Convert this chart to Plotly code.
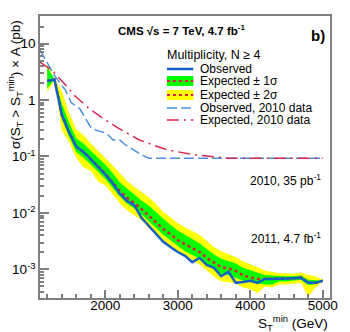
import plotly.graph_objects as go

# 2011 data, N >= 4
st = [1200, 1300, 1400, 1500, 1600, 1700, 1800, 1900, 2000, 2100, 2200, 2300, 2400, 2500,
      2600, 2700, 2800, 2900, 3000, 3100, 3200, 3300, 3400, 3500, 3600, 3700, 3800, 3900,
      4000, 4100, 4200, 4300, 4400, 4500, 4600, 4700, 4800, 4900, 5000]
observed = [2.17, 2.3, 0.55, 0.27, 0.15, 0.12, 0.09, 0.067, 0.048, 0.034, 0.022, 0.0163, 0.0138, 0.0082,
            0.0059, 0.0044, 0.0031, 0.0025, 0.00204, 0.00174, 0.00135, 0.0016, 0.0012, 0.00107, 0.00076, 0.00091, 0.00058, 0.0006,
            0.00063, 0.00058, 0.00068, 0.00068, 0.00068, 0.00068, 0.0007, 0.00071, 0.00058, 0.00058, 0.00063]
expected = [2.17, 2.3, 0.55, 0.27, 0.15, 0.12, 0.09, 0.067, 0.05, 0.035, 0.0245, 0.0185, 0.0151, 0.0118,
            0.0089, 0.0069, 0.0052, 0.0042, 0.0033, 0.0028, 0.0024, 0.00204, 0.0016, 0.00131, 0.0011, 0.00105, 0.00094, 0.00079,
            0.00072, 0.00068, 0.00068, 0.00068, 0.00068, 0.00068, 0.0007, 0.00073, 0.00058, 0.00058, 0.00063]
sig1_up = [3.8, 2.35, 0.87, 0.4, 0.21, 0.17, 0.127, 0.095, 0.072, 0.051, 0.035, 0.027, 0.021, 0.0167,
           0.0135, 0.0102, 0.0079, 0.0062, 0.0049, 0.0041, 0.0034, 0.0029, 0.0023, 0.00185, 0.00155, 0.00142, 0.00127, 0.00107,
           0.00097, 0.00086, 0.0008, 0.00078, 0.00076, 0.00076, 0.00077, 0.00078, 0.00066, 0.00065, 0.00064]
sig1_dn = [1.63, 2.25, 0.46, 0.225, 0.12, 0.095, 0.072, 0.053, 0.04, 0.028, 0.0195, 0.0147, 0.012, 0.0094,
           0.0071, 0.0055, 0.0041, 0.0033, 0.0026, 0.0021, 0.0018, 0.00155, 0.00121, 0.001, 0.00083, 0.0008, 0.00071, 0.00063,
           0.0006, 0.00057, 0.00054, 0.00054, 0.00061, 0.00061, 0.00064, 0.00065, 0.00053, 0.00055, 0.00062]
sig2_up = [4.3, 2.4, 1.45, 0.6, 0.3, 0.24, 0.17, 0.128, 0.095, 0.07, 0.051, 0.037, 0.029, 0.0235,
           0.019, 0.0144, 0.0104, 0.0084, 0.0066, 0.0056, 0.0048, 0.0041, 0.0032, 0.0025, 0.0021, 0.00187, 0.00167, 0.0014,
           0.00122, 0.00109, 0.00096, 0.0009, 0.00086, 0.00086, 0.00084, 0.00088, 0.0008, 0.00076, 0.00065]
sig2_dn = [1.4, 2.2, 0.29, 0.18, 0.095, 0.064, 0.056, 0.036, 0.031, 0.021, 0.0148, 0.0112, 0.0091, 0.0074,
           0.0054, 0.0042, 0.0031, 0.0025, 0.002, 0.0017, 0.00145, 0.00123, 0.00097, 0.00074, 0.00062, 0.00059, 0.00057, 0.00048,
           0.00045, 0.00038, 0.0005, 0.00048, 0.00054, 0.00054, 0.00056, 0.00058, 0.00033, 0.00048, 0.00061]

# 2010 data, 35 pb-1
st_obs10 = [1100, 1300, 1450, 1530, 1650, 1800, 1880, 1970, 2040, 2110, 2200, 2280, 2500, 2600, 5000]
obs10 = [7.7, 2.7, 1.5, 0.9, 0.7, 0.33, 0.29, 0.27, 0.24, 0.195, 0.195, 0.16, 0.107, 0.093, 0.093]
st_exp10 = [1100, 1270, 1460, 1590, 1770, 1960, 2175, 2470, 2740, 2870, 3230, 3420, 3700, 5000]
exp10 = [4.7, 3.3, 1.8, 1.15, 0.72, 0.48, 0.32, 0.196, 0.147, 0.13, 0.107, 0.1, 0.093, 0.093]

FONT = "Liberation Sans, Arial, sans-serif"
BLUE = "#1560c8"
LBLUE = "#4a90e0"
RED = "#e0203c"
CRIMSON = "#d8284e"
GREEN = "#00ff00"
YELLOW = "#ffff00"

fig = go.Figure()

fig.add_trace(go.Scatter(x=st, y=sig2_dn, mode="lines", line=dict(width=0), hoverinfo="skip"))
fig.add_trace(go.Scatter(x=st, y=sig2_up, mode="lines", line=dict(width=0), fill="tonexty",
                         fillcolor=YELLOW, hoverinfo="skip"))
fig.add_trace(go.Scatter(x=st, y=sig1_dn, mode="lines", line=dict(width=0), hoverinfo="skip"))
fig.add_trace(go.Scatter(x=st, y=sig1_up, mode="lines", line=dict(width=0), fill="tonexty",
                         fillcolor=GREEN, hoverinfo="skip"))
fig.add_trace(go.Scatter(x=st_obs10, y=obs10, mode="lines", line=dict(color=LBLUE, width=1.5, dash="10px,4px")))
fig.add_trace(go.Scatter(x=st_exp10, y=exp10, mode="lines",
                         line=dict(color=CRIMSON, width=1.5, dash="12px,5px,2px,5px")))
fig.add_trace(go.Scatter(x=st, y=expected, mode="lines", line=dict(color=RED, width=2.5, dash="dot")))
fig.add_trace(go.Scatter(x=st, y=observed, mode="lines", line=dict(color=BLUE, width=2.5)))

# legend, drawn by hand in paper coordinates
def px(x):
    return (x - 35) / 297.0

def py(y):
    return (298 - y) / 282.0

shapes = [
    dict(type="line", xref="paper", yref="paper", x0=px(165), x1=px(192), y0=py(69), y1=py(69),
         line=dict(color=BLUE, width=2.5)),
    dict(type="rect", xref="paper", yref="paper", x0=px(165), x1=px(192), y0=py(86), y1=py(76),
         fillcolor=GREEN, line=dict(width=0)),
    dict(type="line", xref="paper", yref="paper", x0=px(165), x1=px(192), y0=py(81), y1=py(81),
         line=dict(color=RED, width=2, dash="dot")),
    dict(type="rect", xref="paper", yref="paper", x0=px(165), x1=px(192), y0=py(100), y1=py(90),
         fillcolor=YELLOW, line=dict(width=0)),
    dict(type="line", xref="paper", yref="paper", x0=px(165), x1=px(192), y0=py(95), y1=py(95),
         line=dict(color=RED, width=2, dash="dot")),
    dict(type="line", xref="paper", yref="paper", x0=px(165), x1=px(192), y0=py(108), y1=py(108),
         line=dict(color=LBLUE, width=1.5, dash="10px,4px")),
    dict(type="line", xref="paper", yref="paper", x0=px(165), x1=px(192), y0=py(120), y1=py(120),
         line=dict(color=CRIMSON, width=1.5, dash="12px,5px,2px,5px")),
]

legend_text = ["Observed", "Expected ± 1σ", "Expected ± 2σ", "Observed, 2010 data", "Expected, 2010 data"]
legend_y = [69, 81, 95, 108, 120]

annotations = [
    dict(text="Multiplicity, N ≥ 4", x=px(163), y=py(55), xanchor="left", yanchor="middle",
         font=dict(size=12.5)),
    dict(text="<b>CMS √s = 7 TeV, 4.7 fb<sup>-1</sup></b>", x=px(180), y=py(30), xanchor="center",
         yanchor="middle", font=dict(size=11.5)),
    dict(text="<b>b)</b>", x=px(320), y=py(35), xanchor="center", yanchor="middle", font=dict(size=15)),
    dict(text="2010, 35 pb<sup>-1</sup>", x=px(325), y=py(180), xanchor="right", yanchor="middle",
         font=dict(size=12)),
    dict(text="2011, 4.7 fb<sup>-1</sup>", x=px(325), y=py(238), xanchor="right", yanchor="middle",
         font=dict(size=12)),
    dict(text="S<sub>T</sub><sup>min</sup> (GeV)", x=1.0, y=py(323), xanchor="right", yanchor="middle",
         font=dict(size=13.5)),
    dict(text="σ(S<sub>T</sub> > S<sub>T</sub><sup>min</sup>) × A (pb)", x=px(9), y=py(18),
         xanchor="center", yanchor="top", textangle=-90, font=dict(size=13.5)),
]
for t, y in zip(legend_text, legend_y):
    annotations.append(dict(text=t, x=px(198), y=py(y), xanchor="left", yanchor="middle",
                            font=dict(size=12), borderpad=0))
for a in annotations:
    a.update(xref="paper", yref="paper", showarrow=False)

minor_y = [m * 10.0 ** e for e in range(-4, 2) for m in range(2, 10)]

fig.update_layout(
    width=350, height=332,
    margin=dict(l=35, r=18, t=16, b=34),
    paper_bgcolor="white", plot_bgcolor="white",
    showlegend=False,
    font=dict(family=FONT, color="black", size=13),
    shapes=shapes,
    annotations=annotations,
    xaxis=dict(range=[1100, 5100], showgrid=False, zeroline=False,
               showline=True, linecolor="#808080", linewidth=1.5, mirror=True,
               ticks="inside", ticklen=8, tickcolor="#808080", tickwidth=1.5,
               tickvals=[2000, 3000, 4000, 5000], tickfont=dict(size=13.5),
               ticklabelstandoff=-6,
               minor=dict(ticks="inside", ticklen=4, tickcolor="#808080", dtick=200, tick0=1000)),
    yaxis=dict(type="log", range=[-3.505, 1.487], showgrid=False, zeroline=False,
               showline=True, linecolor="#808080", linewidth=1.5, mirror=True,
               ticks="inside", ticklen=9, tickcolor="#808080", tickwidth=1.5,
               tickvals=[1e-3, 1e-2, 1e-1, 1, 10],
               ticktext=["10<sup>-3</sup>", "10<sup>-2</sup>", "10<sup>-1</sup>", "1", "10"],
               tickfont=dict(size=13.5),
               minor=dict(ticks="inside", ticklen=4, tickcolor="#808080", tickvals=minor_y)),
)

fig.write_html("out.html", config={"displayModeBar": False},
               post_script="document.body.style.margin='0';")
